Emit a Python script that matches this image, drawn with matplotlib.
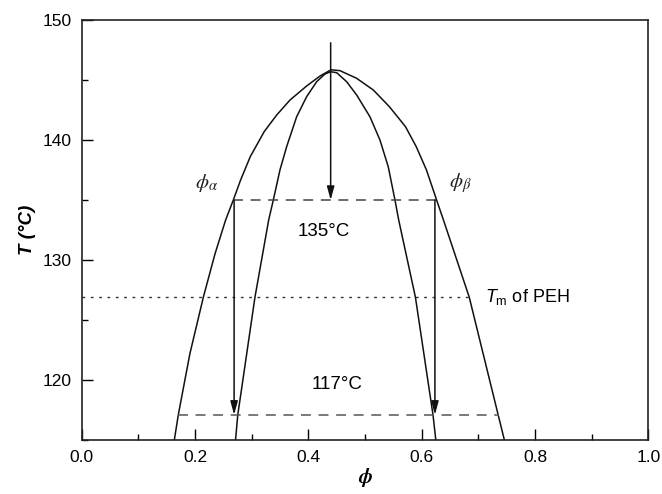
import matplotlib
matplotlib.use('Agg')
import matplotlib.pyplot as plt
import numpy as np

plt.rcParams['font.family'] = ['Liberation Sans', 'DejaVu Sans']
plt.rcParams['mathtext.fontset'] = 'custom'
plt.rcParams['mathtext.rm'] = 'Liberation Sans'
plt.rcParams['mathtext.it'] = 'Liberation Sans:italic'
plt.rcParams['mathtext.bf'] = 'Liberation Sans:bold'

# binodal (outer curve), left foot -> apex -> right foot
binodal_phi = [0.1635, 0.1705, 0.191, 0.2147, 0.2352, 0.2540, 0.2676, 0.2805,
               0.2975, 0.3220, 0.3441, 0.3676, 0.3970, 0.4205, 0.4400, 0.4558,
               0.4853, 0.5146, 0.5430, 0.5715, 0.5905, 0.6085, 0.6264, 0.6385,
               0.684, 0.735, 0.746]
binodal_T = [115.0, 117.1, 122.2, 126.9, 130.5, 133.33, 135.0, 136.67,
             138.61, 140.69, 142.08, 143.33, 144.5, 145.33, 145.85, 145.78,
             145.14, 144.17, 142.78, 141.11, 139.44, 137.5, 135.0, 133.33,
             126.9, 117.1, 115.0]

# spinodal (inner curve)
spinodal_phi = [0.2715, 0.2755, 0.3058, 0.3300, 0.3382, 0.3499, 0.3617, 0.3794,
                0.3970, 0.4147, 0.4293, 0.4394, 0.4500, 0.4676, 0.4853, 0.5087,
                0.5264, 0.5410, 0.5529, 0.5595, 0.589, 0.620, 0.625]
spinodal_T = [115.0, 117.1, 126.9, 133.33, 135.0, 137.5, 139.44, 141.94,
              143.61, 144.86, 145.5, 145.69, 145.61, 144.86, 143.75, 141.94,
              140.0, 137.78, 135.0, 133.33, 126.9, 117.1, 115.0]

# quench temperatures and the tie lines
T_quench1 = 135.0
tie1 = [0.2675, 0.6264]
T_quench2 = 117.1
tie2 = [0.1705, 0.736]
T_m = 126.9
tm_end = 0.683
phi_crit = 0.4394
arrow_top = 148.1
arrow_x = [0.269, 0.6234]

fig = plt.figure(figsize=(6.62, 4.94), dpi=100)
ax = fig.add_axes([0.1234, 0.1093, 0.8559, 0.8502])

ax.plot(binodal_phi, binodal_T, color='#111111', lw=1.1)
ax.plot(spinodal_phi, spinodal_T, color='#111111', lw=1.1)

ax.plot(tie1, [T_quench1, T_quench1], color='#444444', lw=1.1, dashes=(6.5, 5))
ax.plot(tie2, [T_quench2, T_quench2], color='#555555', lw=1.1, dashes=(6.5, 5))
ax.plot([0, tm_end], [T_m, T_m], color='#333333', lw=1.0, dashes=(2, 4))

arrow = dict(arrowstyle='-|>,head_length=0.8,head_width=0.22', color='#111111',
             lw=1.1, shrinkA=0, shrinkB=0)
ax.annotate('', xy=(phi_crit, T_quench1), xytext=(phi_crit, arrow_top), arrowprops=arrow)
for xa in arrow_x:
    ax.annotate('', xy=(xa, T_quench2), xytext=(xa, T_quench1), arrowprops=arrow)

ax.text(0.221, 136.4, r'$\phi_\alpha$', fontsize=15, ha='center', va='center',
        color='#222222', math_fontfamily='stix')
ax.text(0.668, 136.4, r'$\phi_\beta$', fontsize=15, ha='center', va='center',
        color='#222222', math_fontfamily='stix')
ax.text(0.428, 132.4, '135°C', fontsize=13.5, ha='center', va='center')
ax.text(0.450, 119.6, '117°C', fontsize=13.5, ha='center', va='center')
ax.text(0.712, 126.9, r'$T_{\mathrm{m}}$ of PEH', fontsize=13, ha='left', va='center')

ax.set_xlim(0, 1)
ax.set_ylim(115, 150)
ax.set_xticks(np.arange(0, 1.01, 0.2))
ax.set_xticks(np.arange(0.1, 1.0, 0.2), minor=True)
ax.set_yticks([120, 130, 140, 150])
ax.set_yticks([115, 125, 135, 145], minor=True)
ax.xaxis.set_major_formatter(plt.FormatStrFormatter('%.1f'))
ax.tick_params(which='both', direction='in', top=False, right=False, labelsize=12.5, width=1.0, pad=7)
ax.tick_params(which='major', length=8)
ax.tick_params(which='minor', length=4.5)
for s in ax.spines.values():
    s.set_linewidth(1.2)
    s.set_color('#222222')

ax.set_xlabel(r'$\boldsymbol{\phi}$', fontsize=15, labelpad=1, math_fontfamily='stix')
ax.set_ylabel('T (°C)', fontsize=13.5, fontweight='bold', fontstyle='italic', labelpad=5)

fig.savefig('out.png', dpi=100)
